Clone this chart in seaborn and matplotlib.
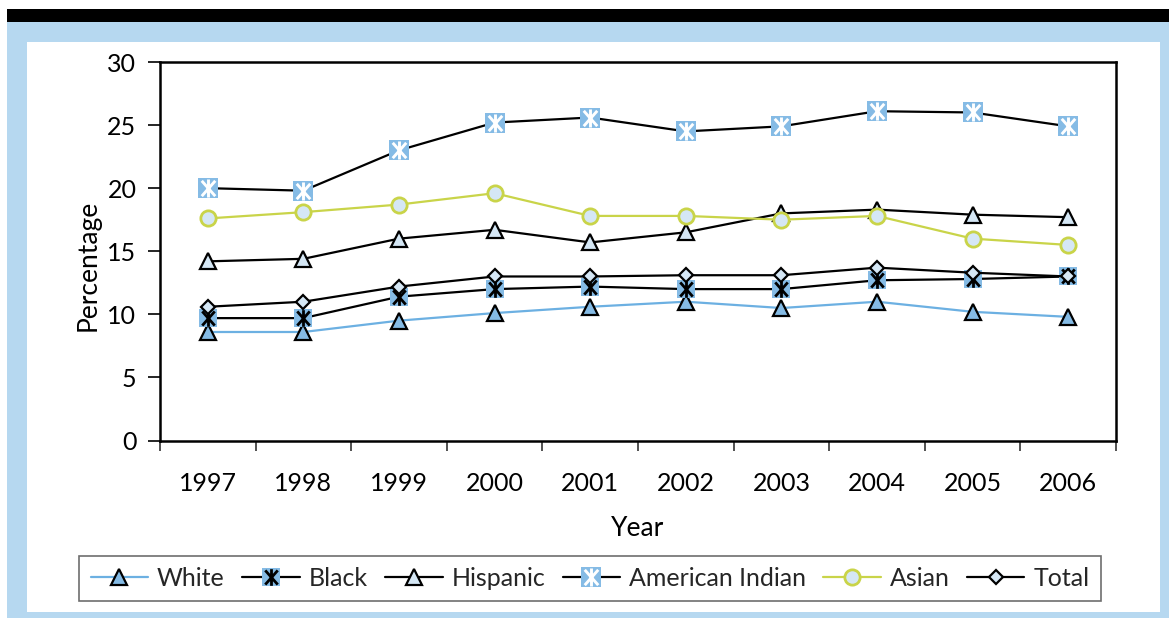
import numpy as np
import pandas as pd
import matplotlib
matplotlib.use("Agg")
import matplotlib.pyplot as plt
from matplotlib.patches import Rectangle
from matplotlib.path import Path
from matplotlib.lines import Line2D
from matplotlib.ticker import FixedLocator
import seaborn as sns

years = [1997, 1998, 1999, 2000, 2001, 2002, 2003, 2004, 2005, 2006]
white = [8.6, 8.6, 9.5, 10.1, 10.6, 11.0, 10.5, 11.0, 10.2, 9.8]
black = [9.7, 9.7, 11.4, 12.0, 12.2, 12.0, 12.0, 12.7, 12.8, 13.0]
hispanic = [14.2, 14.4, 16.0, 16.7, 15.7, 16.5, 18.0, 18.3, 17.9, 17.7]
american_indian = [20.0, 19.8, 23.0, 25.2, 25.6, 24.5, 24.9, 26.1, 26.0, 24.9]
asian = [17.6, 18.1, 18.7, 19.6, 17.8, 17.8, 17.5, 17.8, 16.0, 15.5]
total = [10.6, 11.0, 12.2, 13.0, 13.0, 13.1, 13.1, 13.7, 13.3, 13.0]
y_ticks = [0, 5, 10, 15, 20, 25, 30]

sns.set_theme(style="white")
plt.rcParams["font.family"] = ["Lato", "DejaVu Sans"]

FRAME_BLUE = "#b6d8f0"
MID_BLUE = "#85bbe5"
PALE_BLUE = "#d5e7f5"
LINE_BLUE = "#6cb0e2"
ASIAN_GREEN = "#c9d449"

W, H = 1169, 618
fig = plt.figure(figsize=(W / 100, H / 100), dpi=100)
fig.patch.set_facecolor("white")

def px_rect(x0, y0, x1, y1, color):
    fig.patches.append(Rectangle((x0 / W, 1 - y1 / H), (x1 - x0) / W, (y1 - y0) / H,
                                 transform=fig.transFigure, facecolor=color,
                                 edgecolor="none", zorder=0))

px_rect(7, 9, W, 22, "black")
px_rect(7, 22, W, H, FRAME_BLUE)
px_rect(27, 42, 1160, 612, "white")

ax = fig.add_axes([160 / W, 1 - 440.5 / H, (1116 - 160) / W, (440.5 - 62) / H])
ax.set_facecolor("white")
ax.set_zorder(2)

# six-armed asterisk: a vertical bar crossed by two diagonals
star = Path([(0, -1), (0, 1), (-0.75, -0.85), (0.75, 0.85), (-0.75, 0.85), (0.75, -0.85)],
            [Path.MOVETO, Path.LINETO, Path.MOVETO, Path.LINETO, Path.MOVETO, Path.LINETO])

LW = 1.6
series = [
    ("White", white, dict(color=LINE_BLUE, marker="^", markersize=12,
                          markerfacecolor=MID_BLUE, markeredgecolor="black", markeredgewidth=1.6)),
    ("Black", black, dict(color="black", marker="s", markersize=12.5,
                          markerfacecolor=MID_BLUE, markeredgecolor=MID_BLUE, markeredgewidth=0)),
    ("Hispanic", hispanic, dict(color="black", marker="^", markersize=12,
                                markerfacecolor=PALE_BLUE, markeredgecolor="black", markeredgewidth=1.6)),
    ("American Indian", american_indian, dict(color="black", marker="s", markersize=14,
                                              markerfacecolor=MID_BLUE, markeredgecolor=MID_BLUE,
                                              markeredgewidth=0)),
    ("Asian", asian, dict(color=ASIAN_GREEN, marker="o", markersize=11,
                          markerfacecolor=PALE_BLUE, markeredgecolor=ASIAN_GREEN, markeredgewidth=2)),
    ("Total", total, dict(color="black", marker="D", markersize=7.5,
                          markerfacecolor=PALE_BLUE, markeredgecolor="black", markeredgewidth=1.6)),
]
stars = {"Black": dict(marker=star, markersize=12, color="black", markeredgewidth=2.0),
         "American Indian": dict(marker=star, markersize=13, color="white", markeredgewidth=2.1)}

handles = []
for name, vals, style in series:
    df = pd.DataFrame({"Year": years, "Percentage": vals})
    sns.lineplot(data=df, x="Year", y="Percentage", ax=ax, linewidth=LW, **style)
    h = Line2D([], [], linewidth=LW, **style)
    if name in stars:
        st = stars[name]
        ax.plot(df["Year"], df["Percentage"], linestyle="none", **st)
        h = (h, Line2D([], [], linestyle="none", **st))
    handles.append(h)

ax.set_xlim(years[0] - 0.5, years[-1] + 0.5)
ax.set_ylim(y_ticks[0], y_ticks[-1])
ax.set_xticks(years)
ax.set_xticklabels([str(y) for y in years])
ax.xaxis.set_minor_locator(FixedLocator([y + 0.5 for y in [years[0] - 1] + years]))
ax.set_yticks(y_ticks)
ax.tick_params(axis="x", which="major", length=0, pad=23, labelsize=18, colors="black")
ax.tick_params(axis="x", which="minor", bottom=True, length=7, width=1.2, direction="out", color="#333333")
ax.tick_params(axis="y", left=True, length=9, width=1.2, direction="out", pad=8, labelsize=18,
               colors="black")
for sp in ax.spines.values():
    sp.set_visible(True)
    sp.set_color("black")
    sp.set_linewidth(1.8)

ax.set_xlabel("Year", fontsize=19, labelpad=15, color="black")
ax.set_ylabel("Percentage", fontsize=19, color="black")
ax.yaxis.set_label_coords(-0.062, 0.464)

leg = fig.legend(handles, [s[0] for s in series], loc="center", bbox_to_anchor=(590 / W, 1 - 578.5 / H),
                 ncol=6, fontsize=18, frameon=True, fancybox=False, framealpha=1,
                 edgecolor="#6e6e6e", handlelength=2.3, handletextpad=0.35, columnspacing=0.7,
                 borderpad=0.45)
leg.get_frame().set_linewidth(1.2)
leg.set_zorder(3)

fig.savefig("out.png", dpi=100, facecolor="white")
